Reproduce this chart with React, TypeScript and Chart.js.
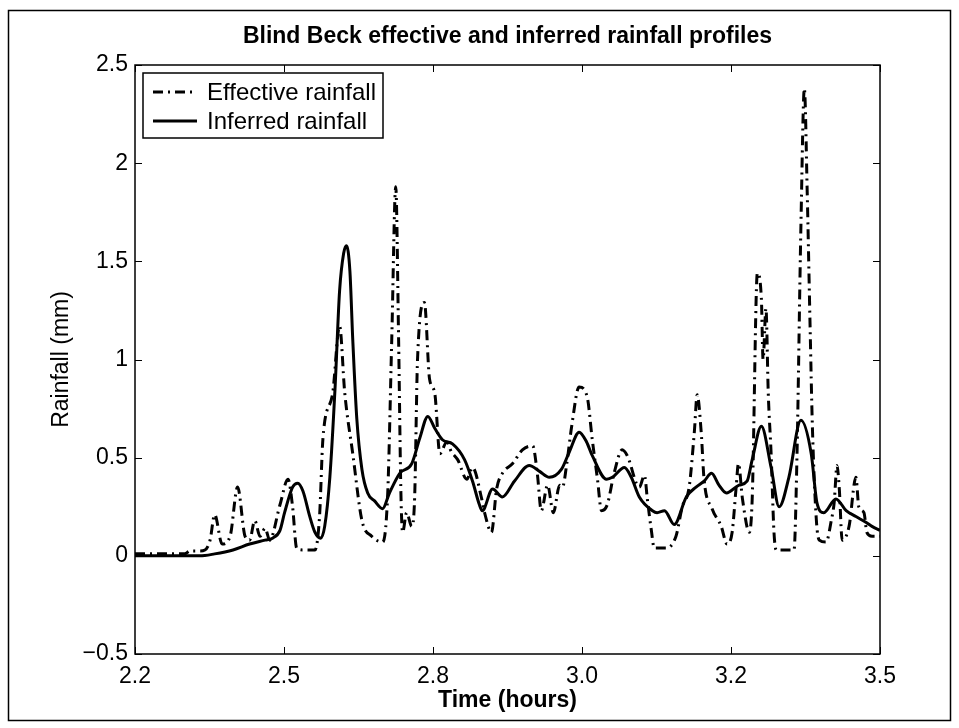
import { useEffect, useRef } from 'react';
import { Chart, registerables } from 'chart.js';

Chart.register(...registerables);

const EFFECTIVE_TIME = [
  2.2, 2.252, 2.287, 2.296, 2.313, 2.322, 2.331, 2.339, 2.352, 2.366, 2.379, 2.392, 2.4, 2.409, 2.418, 2.427, 2.435,
  2.453, 2.467, 2.475, 2.482, 2.493, 2.514, 2.522, 2.528, 2.545, 2.557, 2.566, 2.58, 2.596, 2.613, 2.632, 2.641,
  2.648, 2.655, 2.66, 2.664, 2.667, 2.674, 2.683, 2.688, 2.693, 2.705, 2.714, 2.723, 2.732, 2.744, 2.752, 2.763,
  2.779, 2.789, 2.805, 2.81, 2.822, 2.831, 2.841, 2.859, 2.876, 2.894, 2.902, 2.909, 2.92, 2.93, 2.941, 2.946,
  2.953, 2.962, 2.975, 2.989, 2.998, 3.007, 3.014, 3.024, 3.036, 3.05, 3.059, 3.08, 3.089, 3.094, 3.101, 3.106,
  3.127, 3.144, 3.155, 3.167, 3.176, 3.181, 3.188, 3.193, 3.207, 3.223, 3.233, 3.242, 3.249, 3.253, 3.26, 3.272,
  3.277, 3.286, 3.293, 3.296, 3.301, 3.305, 3.31, 3.315, 3.319, 3.35, 3.355, 3.362, 3.368, 3.373, 3.378, 3.382,
  3.389, 3.394, 3.406, 3.415, 3.42, 3.425, 3.429, 3.434, 3.446, 3.458, 3.463, 3.472, 3.477, 3.486, 3.5,
];
const EFFECTIVE_RAIN = [
  0.01, 0.01, 0.01, 0.025, 0.025, 0.03, 0.08, 0.21, 0.06, 0.1, 0.35, 0.1, 0.08, 0.18, 0.1, 0.14, 0.08,
  0.26, 0.39, 0.25, 0.04, 0.03, 0.03, 0.2, 0.6, 0.83, 1.17, 0.83, 0.52, 0.18, 0.1, 0.07, 0.32,
  1.1, 1.88, 1.1, 0.32, 0.12, 0.22, 0.15, 0.3, 1.0, 1.29, 0.9, 0.83, 0.52, 0.58, 0.53, 0.49,
  0.39, 0.45, 0.29, 0.22, 0.12, 0.34, 0.42, 0.47, 0.54, 0.56, 0.42, 0.23, 0.36, 0.22, 0.36, 0.35,
  0.46, 0.66, 0.86, 0.81, 0.59, 0.39, 0.23, 0.26, 0.42, 0.54, 0.51, 0.35, 0.41, 0.29, 0.13, 0.04,
  0.04, 0.1, 0.25, 0.35, 0.63, 0.82, 0.63, 0.39, 0.24, 0.15, 0.06, 0.12, 0.35, 0.47, 0.29, 0.12,
  0.29, 1.44, 1.31, 1.0, 1.26, 0.83, 0.52, 0.12, 0.03, 0.03, 0.49, 1.68, 2.38, 1.85, 1.17, 0.66,
  0.18, 0.08, 0.07, 0.18, 0.27, 0.46, 0.34, 0.08, 0.15, 0.4, 0.25, 0.22, 0.12, 0.1, 0.1,
];

const INFERRED_TIME = [
  2.2, 2.252, 2.313, 2.339, 2.371, 2.4, 2.427, 2.44, 2.453, 2.461, 2.475, 2.484, 2.493, 2.505, 2.514, 2.524,
  2.531, 2.54, 2.549, 2.557, 2.564, 2.569, 2.575, 2.58, 2.587, 2.596, 2.606, 2.618, 2.632, 2.644, 2.662, 2.683,
  2.697, 2.711, 2.723, 2.737, 2.754, 2.775, 2.789, 2.801, 2.806, 2.824, 2.841, 2.862, 2.888, 2.906, 2.923, 2.944,
  2.958, 2.975, 2.988, 2.998, 3.023, 3.033, 3.054, 3.066, 3.08, 3.103, 3.111, 3.124, 3.141, 3.162, 3.179, 3.193,
  3.206, 3.219, 3.232, 3.254, 3.268, 3.277, 3.293, 3.31, 3.324, 3.341, 3.362, 3.38, 3.39, 3.402, 3.423, 3.441,
  3.458, 3.476, 3.486, 3.5,
];
const INFERRED_RAIN = [
  0.0, 0.0, 0.0, 0.01, 0.03, 0.06, 0.08, 0.09, 0.13, 0.22, 0.35, 0.37, 0.33, 0.2, 0.12, 0.09,
  0.15, 0.4, 0.85, 1.35, 1.54, 1.58, 1.45, 1.1, 0.7, 0.44, 0.32, 0.28, 0.24, 0.32, 0.42, 0.47,
  0.6, 0.71, 0.65, 0.59, 0.57, 0.49, 0.38, 0.26, 0.23, 0.34, 0.3, 0.38, 0.46, 0.43, 0.4, 0.44,
  0.53, 0.63, 0.58, 0.51, 0.39, 0.4, 0.45, 0.4, 0.3, 0.23, 0.22, 0.23, 0.16, 0.3, 0.35, 0.38,
  0.42, 0.36, 0.32, 0.36, 0.38, 0.49, 0.66, 0.45, 0.25, 0.4, 0.69, 0.52, 0.27, 0.22, 0.29, 0.23,
  0.2, 0.17, 0.15, 0.13,
];

const X_TICK_VALUES = [2.2, 2.46, 2.72, 2.98, 3.24, 3.5];
const X_TICK_LABELS = ['2.2', '2.5', '2.8', '3.0', '3.2', '3.5'];
const Y_TICK_VALUES = [-0.5, 0, 0.5, 1, 1.5, 2, 2.5];
const Y_TICK_LABELS = ['\u22120.5', '0', '0.5', '1', '1.5', '2', '2.5'];

const TITLE = 'Blind Beck effective and inferred rainfall profiles';
const X_TITLE = 'Time (hours)';
const Y_TITLE = 'Rainfall (mm)';
const SERIES_NAMES = ['Effective rainfall', 'Inferred rainfall'];

const FONT = '"Liberation Sans", Arial, Helvetica, sans-serif';
const W = 959;
const H = 728;

const decorPlugin = {
  id: 'decor',
  beforeDraw(chart: any) {
    const ctx = chart.ctx;
    ctx.save();
    ctx.fillStyle = '#fff';
    ctx.fillRect(0, 0, chart.width, chart.height);
    ctx.strokeStyle = '#000';
    ctx.lineWidth = 1.5;
    ctx.strokeRect(8.5, 10.5, 942, 710);
    ctx.restore();
  },
  afterDraw(chart: any) {
    const { ctx, chartArea: a, scales } = chart;
    ctx.save();
    ctx.strokeStyle = '#000';
    ctx.lineWidth = 1.5;
    ctx.strokeRect(a.left, a.top, a.right - a.left, a.bottom - a.top);
    ctx.lineWidth = 1;
    const tl = 7;
    ctx.beginPath();
    for (const v of X_TICK_VALUES) {
      const px = Math.round(scales.x.getPixelForValue(v)) + 0.5;
      ctx.moveTo(px, a.bottom);
      ctx.lineTo(px, a.bottom - tl);
      ctx.moveTo(px, a.top);
      ctx.lineTo(px, a.top + tl);
    }
    for (const v of Y_TICK_VALUES) {
      const py = Math.round(scales.y.getPixelForValue(v)) + 0.5;
      ctx.moveTo(a.left, py);
      ctx.lineTo(a.left + tl, py);
      ctx.moveTo(a.right, py);
      ctx.lineTo(a.right - tl, py);
    }
    ctx.stroke();

    const lx = a.left + 8;
    const ly = a.top + 8;
    const lw = 240;
    const lh = 65;
    ctx.fillStyle = '#fff';
    ctx.fillRect(lx, ly, lw, lh);
    ctx.lineWidth = 1.5;
    ctx.strokeRect(lx, ly, lw, lh);
    chart.data.datasets.forEach((ds: any, i: number) => {
      const cy = ly + 19 + i * 29;
      ctx.beginPath();
      ctx.lineWidth = ds.borderWidth;
      ctx.setLineDash(ds.borderDash || []);
      ctx.moveTo(lx + 10, cy);
      ctx.lineTo(lx + 54, cy);
      ctx.stroke();
      ctx.setLineDash([]);
      ctx.fillStyle = '#000';
      ctx.font = `24px ${FONT}`;
      ctx.textAlign = 'left';
      ctx.textBaseline = 'middle';
      ctx.fillText(ds.label, lx + 64, cy + 1);
    });
    ctx.restore();
  },
};

export default function App() {
  const ref = useRef<HTMLCanvasElement | null>(null);

  useEffect(() => {
    document.body.style.margin = '0';
    if (!ref.current) return;
    const effective = EFFECTIVE_TIME.map((t, i) => ({ x: t, y: EFFECTIVE_RAIN[i] }));
    const inferred = INFERRED_TIME.map((t, i) => ({ x: t, y: INFERRED_RAIN[i] }));
    const chart = new Chart(ref.current, {
      type: 'line',
      data: {
        datasets: [
          {
            label: SERIES_NAMES[0],
            data: effective,
            borderColor: '#000',
            borderWidth: 3,
            borderDash: [10, 5, 2, 5],
            pointRadius: 0,
            fill: false,
            cubicInterpolationMode: 'monotone',
          },
          {
            label: SERIES_NAMES[1],
            data: inferred,
            borderColor: '#000',
            borderWidth: 3,
            pointRadius: 0,
            fill: false,
            cubicInterpolationMode: 'monotone',
            borderJoinStyle: 'round',
          },
        ],
      },
      options: {
        animation: false,
        responsive: false,
        maintainAspectRatio: false,
        devicePixelRatio: 1,
        layout: { padding: { left: 0, top: 0, right: W - 880, bottom: 0 } },
        plugins: {
          legend: { display: false },
          tooltip: { enabled: false },
          title: {
            display: true,
            text: TITLE,
            fullSize: false,
            color: '#000',
            font: { family: FONT, size: 23, weight: 'bold' },
            padding: { top: 23.2, bottom: 14.2 },
          },
        },
        scales: {
          x: {
            type: 'linear',
            min: 2.2,
            max: 3.5,
            grid: { display: false, drawTicks: false },
            border: { display: false },
            afterBuildTicks: (scale: any) => {
              scale.ticks = X_TICK_VALUES.map((v) => ({ value: v }));
            },
            afterFit: (scale: any) => {
              scale.height = H - 654;
            },
            ticks: {
              color: '#000',
              padding: 9,
              maxRotation: 0,
              autoSkip: false,
              font: { family: FONT, size: 23 },
              callback: (_v: any, i: number) => X_TICK_LABELS[i],
            },
            title: {
              display: true,
              text: X_TITLE,
              color: '#000',
              font: { family: FONT, size: 23, weight: 'bold' },
              padding: { top: 0, bottom: 14 },
            },
          },
          y: {
            type: 'linear',
            min: -0.5,
            max: 2.5,
            grid: { display: false, drawTicks: false },
            border: { display: false },
            afterBuildTicks: (scale: any) => {
              scale.ticks = Y_TICK_VALUES.map((v) => ({ value: v }));
            },
            afterFit: (scale: any) => {
              scale.width = 135;
            },
            ticks: {
              color: '#000',
              padding: 7,
              autoSkip: false,
              font: { family: FONT, size: 23 },
              callback: (_v: any, i: number) => Y_TICK_LABELS[i],
            },
            title: {
              display: true,
              text: Y_TITLE,
              color: '#000',
              font: { family: FONT, size: 23 },
              padding: { top: 48, bottom: 0 },
            },
          },
        },
      },
      plugins: [decorPlugin],
    });
    return () => chart.destroy();
  }, []);

  return (
    <div style={{ position: 'fixed', left: 0, top: 0, width: W, height: H, background: '#fff' }}>
      <canvas ref={ref} width={W} height={H} style={{ width: W, height: H, display: 'block' }} />
    </div>
  );
}
